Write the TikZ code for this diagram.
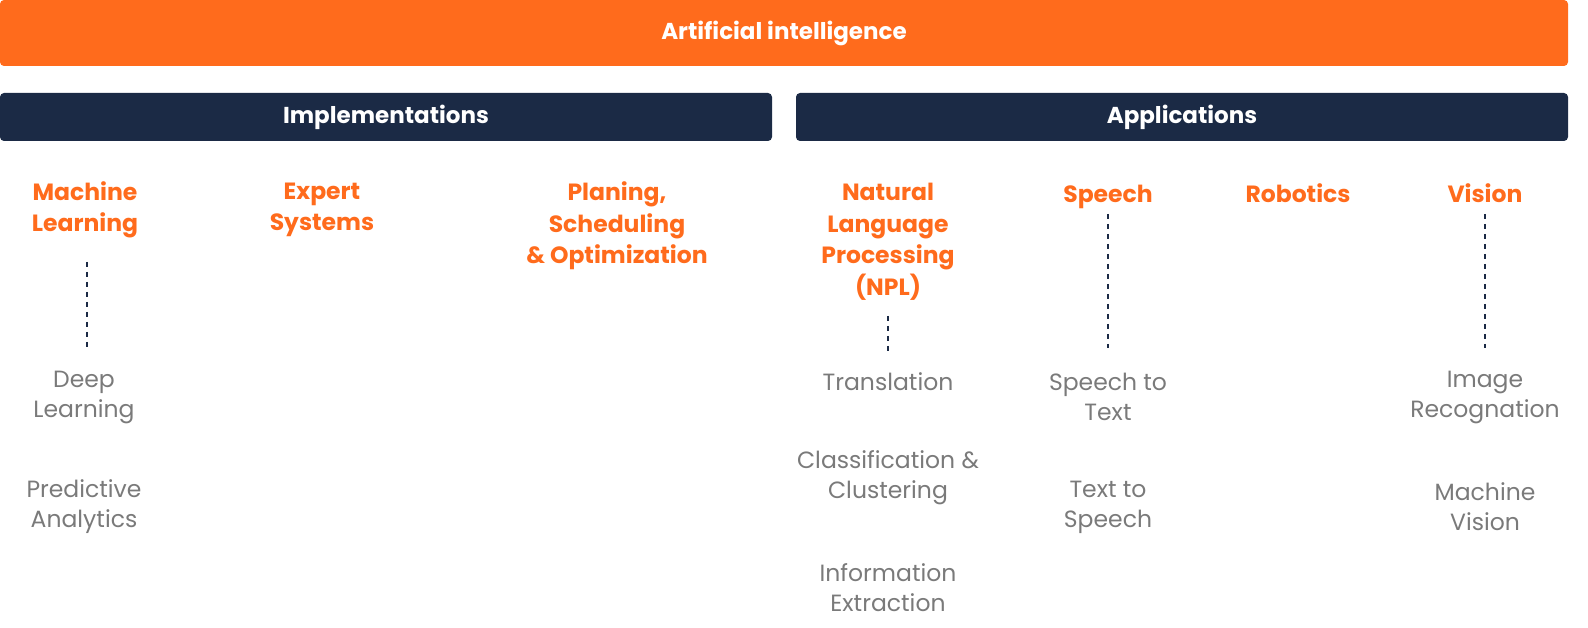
\documentclass[tikz,border=0pt]{standalone}
\usepackage{fontspec}
\setmainfont{Poppins}
\definecolor{aiorange}{HTML}{FF6B1C}
\definecolor{ainavy}{HTML}{1B2A45}
\definecolor{aigray}{HTML}{7A7A7A}
\begin{document}
\begin{tikzpicture}[x=1pt,y=-1pt,
  bar/.style={rounded corners=4pt,draw=none},
  bartext/.style={text=white,font=\fontsize{23}{26}\selectfont\bfseries,inner sep=0pt},
  head/.style={text=aiorange,font=\fontsize{23.5}{31.5}\selectfont\bfseries,align=center,inner sep=0pt},
  item/.style={text=aigray,font=\fontsize{23.5}{30}\selectfont,align=center,inner sep=0pt},
  dl/.style={draw=ainavy,line width=1.8pt,dash pattern=on 5pt off 5pt}]
\fill[aiorange,bar] (0,0) rectangle (1568,66);
\node[bartext] (ai) at (784,33) {Artificial intelligence};
\fill[ainavy,bar] (0,93) rectangle (772,141);
\node[bartext] (impl) at (386,117) {Implementations};
\fill[ainavy,bar] (796,93) rectangle (1568,141);
\node[bartext] (app) at (1182,117) {Applications};

\node[head] (ml) at (85,210) {Machine\\Learning};
\node[head] (es) at (322,210) {Expert\\Systems};
\node[head] (pl) at (617,226) {Planing,\\Scheduling\\\& Optimization};
\node[head] (nlp) at (888,242) {Natural\\Language\\Processing\\(NPL)};
\node[head,anchor=base] (sp) at (1108,203) {Speech};
\node[head,anchor=base] (rb) at (1298,203) {Robotics};
\node[head,anchor=base] (vi) at (1485,203) {Vision};

\node[item] (dl1) at (84,397) {Deep\\Learning};
\node[item] (pa) at (84,507) {Predictive\\Analytics};
\node[item,anchor=base] (tr) at (888,390) {Translation};
\node[item] (cc) at (888,478) {Classification \&\\Clustering};
\node[item] (ie) at (888,588) {Information\\Extraction};
\node[item] (stt) at (1108,397) {Speech to\\Text};
\node[item] (tts) at (1108,507) {Text to\\Speech};
\node[item] (ir) at (1485,397) {Image\\Recognation};
\node[item] (mv) at (1485,507) {Machine\\Vision};

\coordinate (mla) at (87,262); \coordinate (mlb) at (87,348);
\coordinate (nla) at (888,316); \coordinate (nlb) at (888,354);
\coordinate (spa) at (1108,214); \coordinate (spb) at (1108,348);
\coordinate (via) at (1485,214); \coordinate (vib) at (1485,348);
\draw[dl] (mla) -- (mlb);
\draw[dl] (nla) -- (nlb);
\draw[dl] (spa) -- (spb);
\draw[dl] (via) -- (vib);
\pgfresetboundingbox
\useasboundingbox (0,0) rectangle (1588,628);
\end{tikzpicture}
\end{document}
